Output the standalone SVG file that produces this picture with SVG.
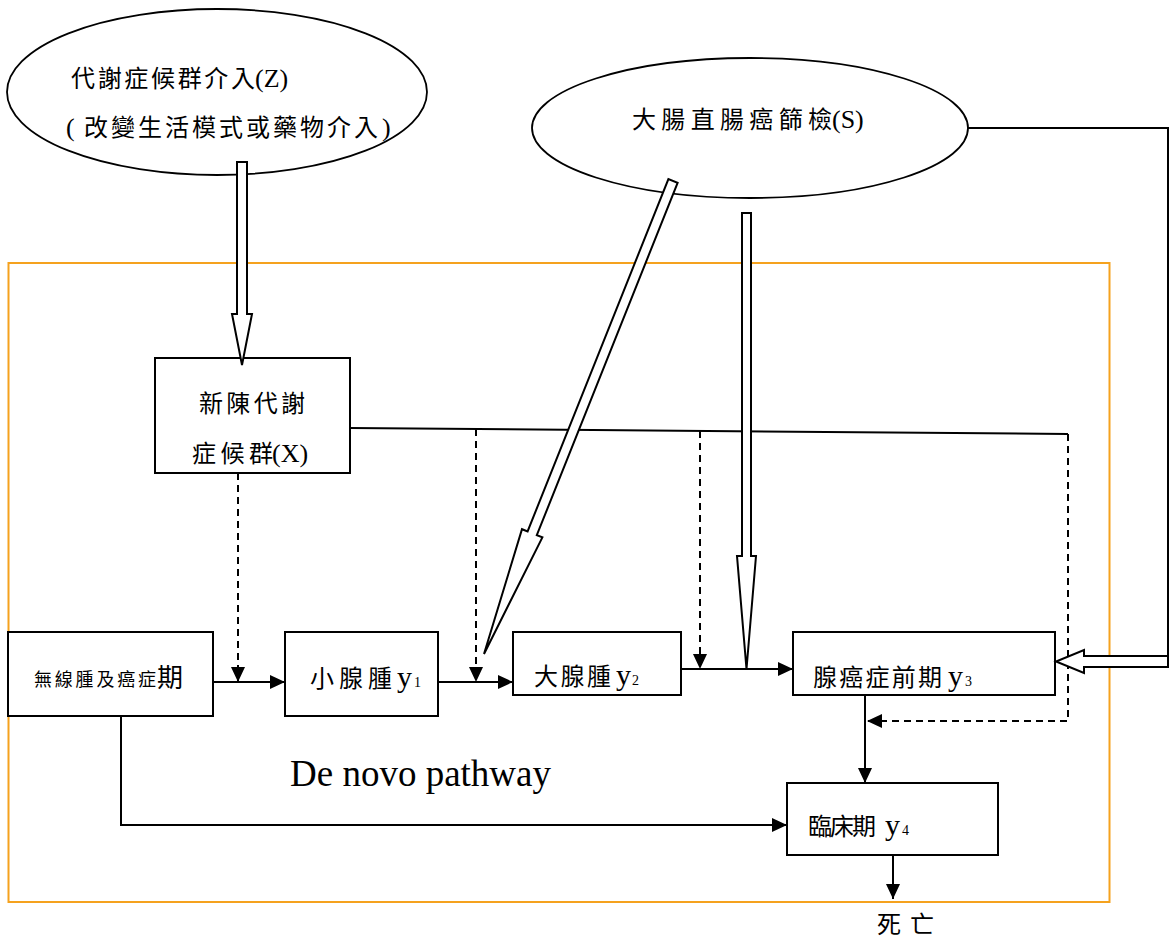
<svg xmlns="http://www.w3.org/2000/svg" width="1172" height="941" viewBox="0 0 1172 941">
<style>
.cjk{font-family:"Liberation Serif","Noto Sans CJK TC",serif;font-size:24px;fill:#000}
.lat{font-family:"Liberation Serif",serif;fill:#000}
.box{fill:#fff;stroke:#000;stroke-width:2}
.ell{fill:#fff;stroke:#000;stroke-width:1.8}
.ln{fill:none;stroke:#000;stroke-width:2}
.dash{fill:none;stroke:#000;stroke-width:2;stroke-dasharray:7 5}
.blk{fill:#fff;stroke:#000;stroke-width:2;stroke-linejoin:miter}
</style>
<defs>
<marker id="ah" markerUnits="userSpaceOnUse" markerWidth="15" markerHeight="14" refX="15" refY="7" orient="auto">
<path d="M0,0 L15,7 L0,14 z" fill="#000"/>
</marker>
</defs>
<rect width="1172" height="941" fill="#fff"/>
<rect id="frame" x="8.5" y="263" width="1101" height="639" fill="none" stroke="#F5A21E" stroke-width="2"/>

<g id="nodeZ">
<ellipse class="ell" cx="217" cy="92" rx="210" ry="83"/>
<text class="cjk" x="71" y="87" textLength="184" lengthAdjust="spacing">代謝症候群介入</text>
<text class="lat" x="255" y="87" font-size="26">(Z)</text>
<text class="lat" x="66" y="136" font-size="26">(</text>
<text class="cjk" x="84" y="136" textLength="294" lengthAdjust="spacing">改變生活模式或藥物介入</text>
<text class="lat" x="382" y="136" font-size="26">)</text>
</g>

<g id="nodeS">
<ellipse class="ell" cx="750" cy="128" rx="218" ry="70"/>
<text class="cjk" x="632" y="128" textLength="200" lengthAdjust="spacing">大腸直腸癌篩檢</text>
<text class="lat" x="832" y="128" font-size="26">(S)</text>
</g>

<g id="nodeX">
<rect class="box" x="155" y="358" width="195" height="115"/>
<text class="cjk" x="199" y="412" textLength="106" lengthAdjust="spacing">新陳代謝</text>
<text class="cjk" x="192" y="462" textLength="81" lengthAdjust="spacing">症候群</text>
<text class="lat" x="272" y="462" font-size="26">(X)</text>
</g>

<g id="nodeA">
<rect class="box" x="8" y="632" width="205" height="84"/>
<text class="cjk" x="34" y="686" style="font-size:18px" textLength="122" lengthAdjust="spacing">無線腫及癌症</text>
<text class="cjk" x="157" y="687" style="font-size:26px">期</text>
</g>

<g id="nodeY1">
<rect class="box" x="285" y="632" width="153" height="84"/>
<text class="cjk" x="310" y="687" textLength="82" lengthAdjust="spacing">小腺腫</text>
<text class="lat" x="397" y="687" font-size="30">y</text>
<text class="lat" x="414" y="687" font-size="14">1</text>
</g>

<g id="nodeY2">
<rect class="box" x="513" y="632" width="168" height="63"/>
<text class="cjk" x="534" y="685" textLength="77" lengthAdjust="spacing">大腺腫</text>
<text class="lat" x="616" y="685" font-size="30">y</text>
<text class="lat" x="632" y="685" font-size="14">2</text>
</g>

<g id="nodeY3">
<rect class="box" x="793" y="632" width="262" height="63"/>
<text class="cjk" x="813" y="686" textLength="129" lengthAdjust="spacing">腺癌症前期</text>
<text class="lat" x="948" y="686" font-size="30">y</text>
<text class="lat" x="965" y="686" font-size="14">3</text>
</g>

<g id="nodeY4">
<rect class="box" x="787" y="783" width="211" height="72"/>
<text class="cjk" x="808" y="835" textLength="68" lengthAdjust="spacing">臨床期</text>
<text class="lat" x="885" y="835" font-size="30">y</text>
<text class="lat" x="902" y="835" font-size="14">4</text>
</g>

<g id="nodeDeath">
<text class="cjk" x="877" y="933" style="font-size:24px" textLength="57" lengthAdjust="spacing">死亡</text>
</g>

<g id="label">
<text class="lat" x="290" y="786" font-size="38" textLength="261" lengthAdjust="spacingAndGlyphs">De novo pathway</text>
</g>

<g id="connectors">
<path class="ln" d="M213,682 H285" marker-end="url(#ah)"/>
<path class="ln" d="M438,682 H513" marker-end="url(#ah)"/>
<path class="ln" d="M681,669 H793" marker-end="url(#ah)"/>
<path class="ln" d="M865,695 V783" marker-end="url(#ah)"/>
<path class="ln" d="M121,716 V825 H787" marker-end="url(#ah)"/>
<path class="ln" d="M893,855 V899" marker-end="url(#ah)"/>
<path class="ln" d="M350,428 L1068,434"/>
<path class="dash" d="M238,473 V682" marker-end="url(#ah)"/>
<path class="dash" d="M476,429 V682" marker-end="url(#ah)"/>
<path class="dash" d="M700,431 V669" marker-end="url(#ah)"/>
<path class="dash" d="M1068,434 V721 H867" marker-end="url(#ah)"/>
<path class="ln" d="M968,128 H1168 V657"/>
<polygon class="blk" points="237,162 247,162 247,314 252,314 242,365 232,314 237,314"/>
<polygon class="blk" points="742,213 751,213 751,556 756,556 746.5,669 737,556 742,556"/>
<polygon class="blk" points="677.6,182.9 536.8,535.2 542.4,537.4 484,654 522,529.2 527.6,531.4 668.4,179.1"/>
<polygon class="blk" points="1168,656 1084,656 1084,650 1056,661.5 1084,673 1084,667 1168,667"/>
</g>
</svg>
